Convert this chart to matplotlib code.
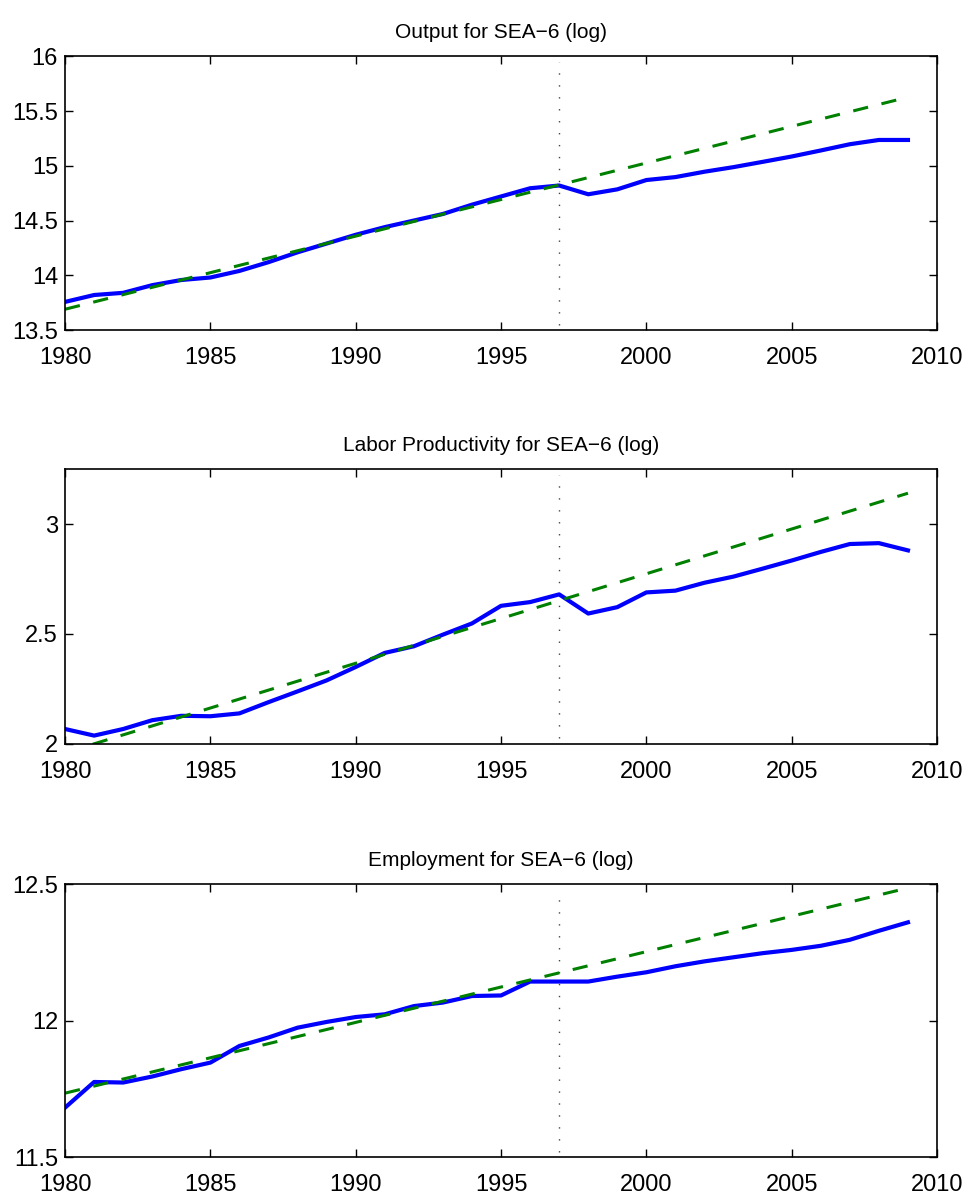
import matplotlib.pyplot as plt
import numpy as np

plt.rcParams['font.family'] = ['Liberation Sans', 'DejaVu Sans']

years = np.arange(1980, 2010)

output = [13.757, 13.82, 13.84, 13.91, 13.957, 13.98, 14.04, 14.12, 14.21, 14.29,
          14.37, 14.44, 14.50, 14.56, 14.645, 14.72, 14.795, 14.82, 14.74, 14.785,
          14.87, 14.897, 14.946, 14.988, 15.036, 15.085, 15.14, 15.197, 15.236, 15.236]
productivity = [2.068, 2.038, 2.068, 2.108, 2.128, 2.126, 2.139, 2.19, 2.239, 2.289,
                2.35, 2.414, 2.444, 2.497, 2.548, 2.628, 2.645, 2.68, 2.593, 2.622,
                2.689, 2.697, 2.733, 2.761, 2.797, 2.834, 2.873, 2.909, 2.913, 2.88]
employment = [11.681, 11.775, 11.773, 11.795, 11.822, 11.846, 11.907, 11.938, 11.974, 11.995,
              12.013, 12.023, 12.053, 12.066, 12.09, 12.092, 12.143, 12.143, 12.143, 12.161,
              12.177, 12.199, 12.217, 12.232, 12.247, 12.259, 12.274, 12.296, 12.329, 12.36]

# pre-1997 trend lines, given by their two end points
trend_years = [1980, 2009]
output_trend = [13.69, 15.627]
productivity_trend = [1.96, 3.14]
employment_trend = [11.734, 12.486]

break_year = 1997

titles = ["Output for SEA\u22126 (log)",
          "Labor Productivity for SEA\u22126 (log)",
          "Employment for SEA\u22126 (log)"]
series = [output, productivity, employment]
trends = [output_trend, productivity_trend, employment_trend]
ylims = [(13.5, 16), (2, 3.25), (11.5, 12.5)]
yticks = [[13.5, 14, 14.5, 15, 15.5, 16], [2, 2.5, 3], [11.5, 12, 12.5]]
ytick_labels = [["13.5", "14", "14.5", "15", "15.5", "16"], ["2", "2.5", "3"],
                ["11.5", "12", "12.5"]]
xticks = [1980, 1985, 1990, 1995, 2000, 2005, 2010]

fig = plt.figure(figsize=(9.68, 11.98), dpi=100)
boxes = [[0.0672, 0.7245, 0.9008, 0.2285],
         [0.0672, 0.379, 0.9008, 0.2295],
         [0.0672, 0.0342, 0.9008, 0.2278]]

for i in range(3):
    ax = fig.add_axes(boxes[i])
    ax.axvline(break_year, color='#444444', linewidth=1.0, linestyle=(0, (1, 7.6)),
               ymin=0.02, ymax=0.98)
    ax.plot(years, series[i], color='#0000ff', linewidth=3.0, solid_joinstyle='round')
    ax.plot(trend_years, trends[i], color='#008000', linewidth=2.2, linestyle=(0, (5, 4.5)))
    ax.set_xlim(1980, 2010)
    ax.set_ylim(*ylims[i])
    ax.set_xticks(xticks)
    ax.set_xticklabels([str(t) for t in xticks])
    ax.set_yticks(yticks[i])
    ax.set_yticklabels(ytick_labels[i])
    ax.tick_params(direction='in', length=6, width=1, labelsize=17,
                   top=True, right=True)
    ax.tick_params(axis='x', pad=12)
    ax.tick_params(axis='y', pad=5)
    for s in ax.spines.values():
        s.set_linewidth(1.2)
    ax.set_title(titles[i], fontsize=15, pad=13)

plt.savefig('out.png', dpi=100)
